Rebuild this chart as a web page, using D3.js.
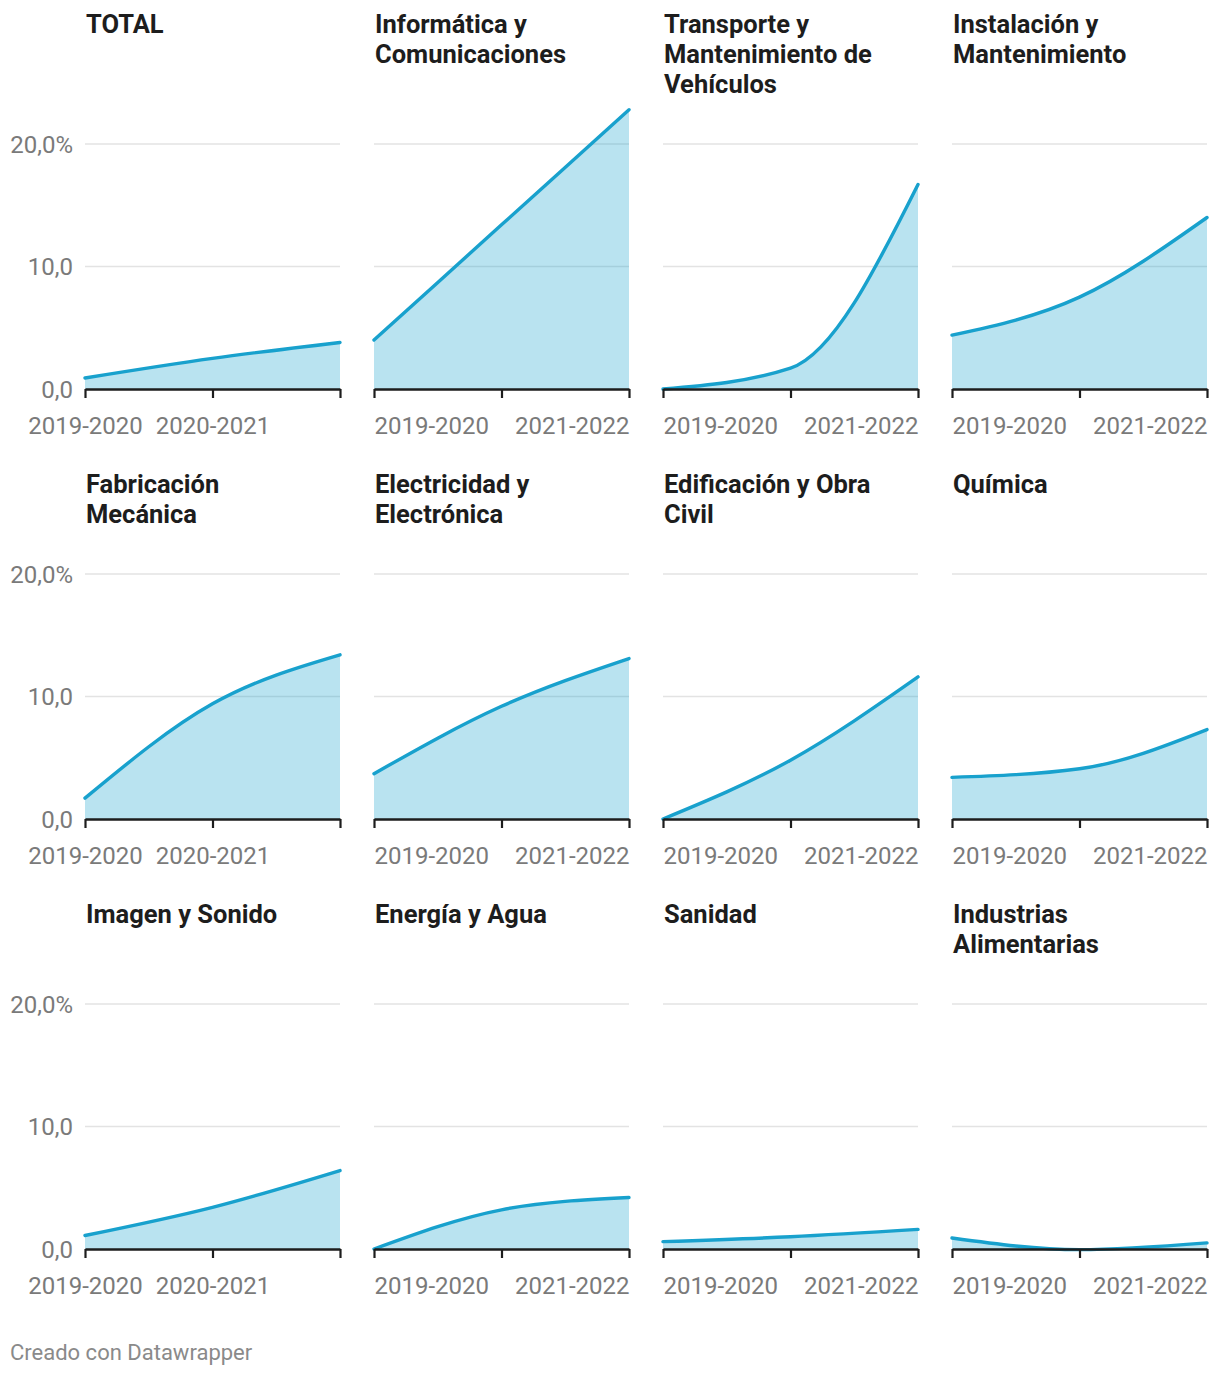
<!DOCTYPE html>
<html>
<head>
<meta charset="utf-8">
<script src="https://cdn.jsdelivr.net/npm/d3@7"></script>
<style>
  html, body { margin: 0; padding: 0; background: #fff; }
  svg { display: block; font-family: Roboto, "Noto Sans", sans-serif; }
</style>
</head>
<body>
<svg id="chart" width="1220" height="1376"></svg>
<script>
// ---- data ----
const categories = ["2019-2020", "2020-2021", "2021-2022"];
const panelTitles = [
  ["TOTAL"],
  ["Informática y", "Comunicaciones"],
  ["Transporte y", "Mantenimiento de", "Vehículos"],
  ["Instalación y", "Mantenimiento"],
  ["Fabricación", "Mecánica"],
  ["Electricidad y", "Electrónica"],
  ["Edificación y Obra", "Civil"],
  ["Química"],
  ["Imagen y Sonido"],
  ["Energía y Agua"],
  ["Sanidad"],
  ["Industrias", "Alimentarias"]
];
const totalValues        = [0.9, 2.5, 3.8];
const informaticaValues  = [4.0, 13.4, 22.8];
const transporteValues   = [0.0, 1.7, 16.7];
const instalacionValues  = [4.4, 7.5, 14.0];
const fabricacionValues  = [1.7, 9.4, 13.4];
const electricidadValues = [3.7, 9.2, 13.1];
const edificacionValues  = [0.0, 4.8, 11.6];
const quimicaValues      = [3.4, 4.1, 7.3];
const imagenValues       = [1.1, 3.4, 6.4];
const energiaValues      = [0.0, 3.2, 4.2];
const sanidadValues      = [0.6, 1.0, 1.6];
const industriasValues   = [0.9, -0.05, 0.5];
const yTickValues = [0, 10, 20];
const yTickLabels = ["0,0", "10,0", "20,0%"];
const footerText = "Creado con Datawrapper";

const seriesValues = [
  totalValues, informaticaValues, transporteValues, instalacionValues,
  fabricacionValues, electricidadValues, edificacionValues, quimicaValues,
  imagenValues, energiaValues, sanidadValues, industriasValues
];

// ---- layout ----
const colX = [85, 374, 663, 952];
const colW = 255;
const rowBase = [389, 819, 1249];
const titleOffset = [-356, -326, -326];
const plotH = 245; // 0 -> 20
const lineColor = "#18a1cd";

const svg = d3.select("#chart");

const x = d3.scalePoint().domain(categories).range([0, colW]);
const y = d3.scaleLinear().domain([0, 20]).range([0, -plotH]);

seriesValues.forEach((vals, i) => {
  const col = i % 4, row = Math.floor(i / 4);
  const g = svg.append("g").attr("transform", `translate(${colX[col]},${rowBase[row]})`);

  // title
  const t = g.append("text")
    .attr("x", 1)
    .attr("y", titleOffset[row])
    .attr("fill", "#1d1d1d")
    .attr("font-weight", 700)
    .attr("font-size", 25.5);
  panelTitles[i].forEach((ln, k) => {
    t.append("tspan").attr("x", 1).attr("dy", k === 0 ? 0 : 30).text(ln);
  });

  // grid
  g.selectAll("line.grid").data(yTickValues.filter(v => v > 0)).enter()
    .append("line")
    .attr("x1", 0).attr("x2", colW)
    .attr("y1", d => y(d)).attr("y2", d => y(d))
    .attr("stroke", "#e3e3e3").attr("stroke-width", 1.5);

  // y labels only first column
  if (col === 0) {
    g.selectAll("text.ylab").data(yTickValues).enter()
      .append("text")
      .attr("x", -12)
      .attr("y", d => y(d))
      .attr("dy", "0.36em")
      .attr("text-anchor", "end")
      .attr("fill", "#7a7a7a")
      .attr("font-size", 24)
      .text((d, k) => yTickLabels[k]);
  }

  const data = categories.map((c, k) => ({ c, v: vals[k] }));
  const area = d3.area().x(d => x(d.c)).y0(y(0)).y1(d => y(d.v)).curve(d3.curveMonotoneX);
  const line = d3.line().x(d => x(d.c)).y(d => y(d.v)).curve(d3.curveMonotoneX);

  g.append("path").datum(data).attr("d", area).attr("fill", lineColor).attr("fill-opacity", 0.3);
  g.append("path").datum(data).attr("d", line).attr("fill", "none")
    .attr("stroke", lineColor).attr("stroke-width", 3.4).attr("stroke-linecap", "round");

  // x axis
  const ax = g.append("g").call(d3.axisBottom(x).tickSize(9).tickPadding(12).tickSizeOuter(0));
  ax.select(".domain").attr("stroke", "#1d1d1d").attr("stroke-width", 2.6);
  ax.selectAll(".tick line").attr("stroke", "#1d1d1d").attr("stroke-width", 2.2);
  ax.selectAll(".tick text")
    .attr("font-size", 24)
    .attr("font-family", "Roboto, sans-serif")
    .attr("fill", "#7a7a7a")
    .attr("y", 45).attr("dy", 0)
    .each(function (d, k) {
      const s = d3.select(this);
      if (col === 0) {
        if (k === 2) s.remove(); else s.attr("text-anchor", "middle");
      } else {
        if (k === 1) s.remove();
        else s.attr("text-anchor", k === 0 ? "start" : "end");
      }
    });
});

svg.append("text")
  .attr("x", 10).attr("y", 1360)
  .attr("fill", "#8a8a8a")
  .attr("font-size", 22)
  .text(footerText);
</script>
</body>
</html>
